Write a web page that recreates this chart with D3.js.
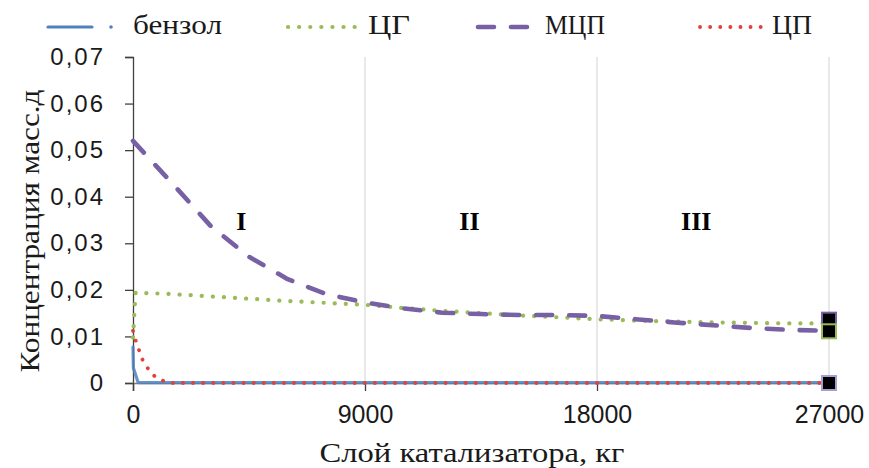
<!DOCTYPE html>
<html>
<head>
<meta charset="utf-8">
<script src="https://cdn.jsdelivr.net/npm/d3@7"></script>
<style>
  html, body { margin: 0; padding: 0; background: #fff; }
  svg { display: block; }
</style>
</head>
<body>
<svg id="chart" width="869" height="468"></svg>
<script>
/* ---------- данные ---------- */
const benzolX = [0, 15, 200, 27000];
const benzolY = [0.0077, 0.0032, 0.0001, 0.0001];

const cgX = [0, 100, 1500, 3000, 4500, 6000, 7500, 9000, 10500, 12000, 13500,
             15000, 16500, 18000, 19500, 21000, 22500, 24000, 25500, 27000];
const cgY = [0.0098, 0.0194, 0.0191, 0.0186, 0.0181, 0.0176, 0.0172, 0.0168, 0.0161, 0.0155, 0.0150,
             0.0145, 0.0141, 0.0137, 0.0134, 0.0132, 0.0130, 0.0129, 0.0128, 0.0128];

const mcpX = [0, 1500, 3000, 4500, 6000, 7500, 9000, 10500, 12000, 13500,
              15000, 16500, 18000, 19500, 21000, 22500, 24000, 25500, 27000];
const mcpY = [0.0520, 0.0430, 0.0338, 0.0271, 0.0223, 0.0191, 0.0173, 0.0160, 0.0151, 0.0148,
              0.0146, 0.0146, 0.0144, 0.0137, 0.0130, 0.0124, 0.0118, 0.0114, 0.0112];

const cpX = [0, 120, 230, 350, 540, 780, 1090, 1500, 3000, 27000];
const cpY = [0.0112, 0.0088, 0.0071, 0.0052, 0.0034, 0.0017, 0.0006, 0.0000, 0.0000, 0.0000];

// маркеры в конце слоя
const markerX = [27000, 27000, 27000];
const markerY = [0.0136, 0.0111, 0.0000];

const seriesNames = ["бензол", "ЦГ", "МЦП", "ЦП"];
const xTicks = [0, 9000, 18000, 27000];
const yTicks = [0, 0.01, 0.02, 0.03, 0.04, 0.05, 0.06, 0.07];
const zoneLabels = ["I", "II", "III"];
const zoneX = [4200, 13050, 21850];
const zoneY = 0.0328;

/* ---------- размеры ---------- */
const plot = { left: 133, right: 829, top: 57, bottom: 383 };
const SERIF = "'Liberation Serif', 'Times New Roman', serif";
const SANS = "'Liberation Sans', Arial, sans-serif";

const svg = d3.select("#chart");

const x = d3.scaleLinear().domain([0, 27000]).range([plot.left, plot.right]);
const y = d3.scaleLinear().domain([0, 0.07]).range([plot.bottom, plot.top]);

const fmt = (d) => d === 0 ? "0" : d3.format(".2f")(d).replace(".", ",");

// вертикальная сетка
svg.append("g")
  .selectAll("line")
  .data(xTicks.slice(1))
  .enter().append("line")
  .attr("x1", (d) => x(d)).attr("x2", (d) => x(d))
  .attr("y1", plot.top).attr("y2", plot.bottom)
  .attr("stroke", "#d9d9d9").attr("stroke-width", 1.2);

// ось Y
const yAxis = svg.append("g")
  .attr("transform", `translate(${plot.left},0)`)
  .call(d3.axisLeft(y).tickValues(yTicks).tickFormat(fmt).tickSize(8).tickPadding(20));
yAxis.select(".domain").attr("stroke", "#404040").attr("stroke-width", 1.3);
yAxis.selectAll(".tick line").attr("stroke", "#404040").attr("stroke-width", 1.3);
yAxis.selectAll("text")
  .attr("fill", "#1a1a1a")
  .style("font-family", SANS)
  .style("font-size", "24px")
  .style("letter-spacing", "2px");

// ось X
const xAxis = svg.append("g")
  .attr("transform", `translate(0,${plot.bottom})`)
  .call(d3.axisBottom(x).tickValues(xTicks).tickFormat(d3.format("d")).tickSize(8).tickPadding(14));
xAxis.select(".domain").attr("stroke", "#7f7f7f").attr("stroke-width", 1.6);
xAxis.selectAll(".tick line").attr("stroke", "#404040").attr("stroke-width", 1.3);
xAxis.selectAll("text")
  .attr("fill", "#1a1a1a")
  .style("font-family", SANS)
  .style("font-size", "25px");

// подписи осей
svg.append("text")
  .attr("x", 472).attr("y", 462)
  .attr("text-anchor", "middle")
  .attr("textLength", 305).attr("lengthAdjust", "spacingAndGlyphs")
  .style("font-family", SERIF)
  .style("font-size", "28px")
  .attr("fill", "#1a1a1a")
  .text("Слой катализатора, кг");

svg.append("text")
  .attr("transform", "translate(39,231) rotate(-90)")
  .attr("text-anchor", "middle")
  .attr("textLength", 283).attr("lengthAdjust", "spacingAndGlyphs")
  .style("font-family", SERIF)
  .style("font-size", "28px")
  .attr("fill", "#1a1a1a")
  .text("Концентрация масс.д");

/* ---------- серии ---------- */
const styles = [
  { color: "#4f81bd", width: 3.2, dash: null },
  { color: "#9bbb59", width: 4.2, dash: "0.1 11" },
  { color: "#7760a3", width: 4.6, dash: "16 17" },
  { color: "#e0413c", width: 3.8, dash: "0.1 10" }
];
const allX = [benzolX, cgX, mcpX, cpX];
const allY = [benzolY, cgY, mcpY, cpY];

const line = d3.line().x((d) => x(d[0])).y((d) => y(d[1]));

// порядок отрисовки: бензол, ЦП, ЦГ, МЦП
[0, 3, 1, 2].forEach((i) => {
  const pts = allX[i].map((v, k) => [v, allY[i][k]]);
  svg.append("path")
    .datum(pts)
    .attr("d", line)
    .attr("fill", "none")
    .attr("stroke", styles[i].color)
    .attr("stroke-width", styles[i].width)
    .attr("stroke-opacity", i === 0 ? 0.85 : 1)
    .attr("stroke-linecap", "round")
    .attr("stroke-linejoin", "round")
    .attr("stroke-dasharray", styles[i].dash);
});

// маркеры
const markerStroke = ["#7760a3", "#9bbb59", "#a79ed3"];
svg.append("g")
  .selectAll("rect")
  .data(markerX.map((v, k) => [v, markerY[k]]))
  .enter().append("rect")
  .attr("x", (d) => x(d[0]) - 7).attr("y", (d) => y(d[1]) - 7)
  .attr("width", 14).attr("height", 14)
  .attr("fill", "#000")
  .attr("stroke", (d, k) => markerStroke[k])
  .attr("stroke-width", 2);

// номера зон
svg.append("g")
  .selectAll("text")
  .data(zoneLabels)
  .enter().append("text")
  .attr("x", (d, i) => x(zoneX[i])).attr("y", y(zoneY))
  .attr("text-anchor", "middle")
  .style("font-family", SERIF)
  .style("font-size", "26px")
  .style("font-weight", "bold")
  .attr("fill", "#000")
  .text((d) => d);

/* ---------- легенда ---------- */
const legendX = [48, 288, 478, 700];
const legendLen = [44, 72, 62, 62];
const legendTextX = [133, 368, 545, 772];
const legendTextLen = [89, 42, 60, 40];
const legendY = 27;
const lg = svg.append("g");
seriesNames.forEach((name, i) => {
  const st = styles[i];
  lg.append("line")
    .attr("x1", legendX[i]).attr("x2", legendX[i] + legendLen[i])
    .attr("y1", legendY).attr("y2", legendY)
    .attr("stroke", st.color).attr("stroke-width", st.width)
    .attr("stroke-linecap", "round")
    .attr("stroke-dasharray", st.dash);
  if (i === 0) {
    lg.append("circle")
      .attr("cx", 111).attr("cy", legendY).attr("r", 1.8).attr("fill", st.color);
  }
  lg.append("text")
    .attr("x", legendTextX[i]).attr("y", 34)
    .attr("textLength", legendTextLen[i]).attr("lengthAdjust", "spacingAndGlyphs")
    .style("font-family", SERIF)
    .style("font-size", "28px")
    .attr("fill", "#1a1a1a")
    .text(name);
});
</script>
</body>
</html>
